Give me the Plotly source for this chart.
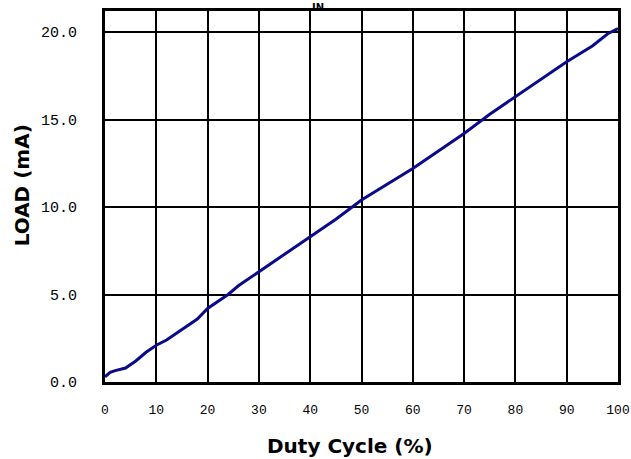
import plotly.graph_objects as go

duty_cycle = [0, 1, 2, 4, 6, 8, 10, 12, 14, 16, 18, 20, 22, 24, 26, 28, 30, 35, 40, 45, 50, 55, 60, 65, 70, 75, 80, 85, 90, 95, 98, 100]
load_ma = [0.3, 0.55, 0.65, 0.8, 1.2, 1.7, 2.1, 2.4, 2.8, 3.2, 3.6, 4.2, 4.6, 5.0, 5.5, 5.9, 6.3, 7.3, 8.3, 9.3, 10.4, 11.3, 12.2, 13.2, 14.2, 15.3, 16.3, 17.3, 18.3, 19.2, 19.9, 20.2]

x_ticks = [0, 10, 20, 30, 40, 50, 60, 70, 80, 90, 100]
x_tick_labels = ["0", "10", "20", "30", "40", "50", "60", "70", "80", "90", "100"]
y_ticks = [0, 5, 10, 15, 20]
y_tick_labels = ["0.0", "5.0", "10.0", "15.0", "20.0"]

x_title = "<b>Duty Cycle (%)</b>"
y_title = "<b>LOAD (mA)</b>"
top_title = "<b>IN</b>"

fig = go.Figure()
fig.add_trace(go.Scatter(x=duty_cycle, y=load_ma, mode="lines",
                         line=dict(color="#0a0a8a", width=3), showlegend=False))

title_font = dict(family="DejaVu Sans", size=20, color="black")
fig.update_layout(
    width=631, height=459,
    margin=dict(l=105, r=13, t=11, b=77, autoexpand=False),
    paper_bgcolor="white", plot_bgcolor="white",
    font=dict(family="Liberation Mono", color="black", size=15),
    annotations=[
        dict(text=top_title, x=0.415, xref="paper", y=1, yref="paper",
             yshift=11, yanchor="top", showarrow=False,
             font=dict(family="DejaVu Sans", size=10, color="black")),
        dict(text=x_title, x=0.478, xref="paper", y=0, yref="paper",
             yshift=-50, yanchor="top", xanchor="center", showarrow=False,
             font=title_font),
        dict(text=y_title, x=0, xref="paper", xshift=-83, y=0.53, yref="paper",
             xanchor="center", yanchor="middle", textangle=-90, showarrow=False,
             font=title_font),
    ],
)
fig.update_xaxes(range=[0, 100], tickvals=x_ticks, ticktext=x_tick_labels,
                 tickfont=dict(family="Liberation Mono", size=13),
                 showgrid=True, gridcolor="black", gridwidth=1.5,
                 showline=True, linecolor="black", linewidth=3, mirror=True,
                 zeroline=False, ticks="", ticklabelstandoff=13, automargin=False,
                 ticklabeloverflow="allow")
fig.update_yaxes(range=[0, 21.2], tickvals=y_ticks, ticktext=y_tick_labels,
                 showgrid=True, gridcolor="black", gridwidth=1.5,
                 showline=True, linecolor="black", linewidth=3, mirror=True,
                 zeroline=False, ticks="", ticklabelstandoff=22, automargin=False,
                 ticklabeloverflow="allow")

fig.write_html("out.html", config={"displayModeBar": False},
               post_script="document.body.style.margin='0';")
